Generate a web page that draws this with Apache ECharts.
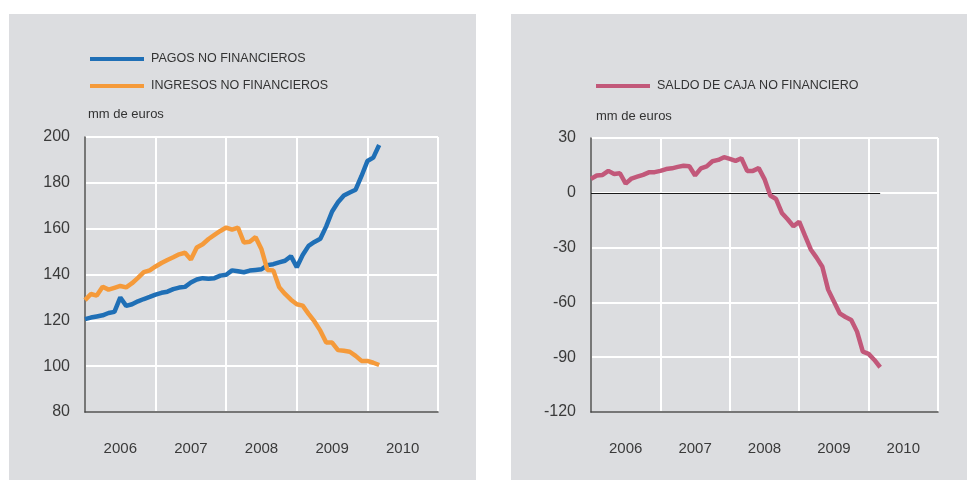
<!DOCTYPE html>
<html lang="es">

<head>
	<meta charset="UTF-8" />
	<title>Pagos, ingresos y saldo de caja no financiero</title>
	<script src="https://cdn.jsdelivr.net/npm/echarts@6/dist/echarts.min.js"></script>
	<style type="text/css">
		body {
			margin: 0;
			background-color: #ffffff;
		}

		.panel {
			position: absolute;
			background-color: #dcdde0;
		}

		#chart {
			position: absolute;
			left: 0;
			top: 0;
			width: 967px;
			height: 480px;
		}
	</style>
</head>

<body>
	<!-- fondos grises de los dos paneles -->
	<div class="panel" style="left: 9px; top: 14px; width: 467px; height: 466px;"></div>
	<div class="panel" style="left: 511px; top: 14px; width: 456px; height: 466px;"></div>

	<div id="chart"></div>

	<script>
		//--------------------------- datos ---------------------------//

		// mensual, ene 2006 - mar 2010 (índice 0 = ene 2006)
		const years = ['2006', '2007', '2008', '2009', '2010'];

		const pagos = [
			120.5, 121.2, 121.7, 122.2, 123.2, 123.7, 130.0, 126.3, 127.0, 128.3, 129.3, 130.2,
			131.2, 132.0, 132.5, 133.6, 134.3, 134.6, 136.5, 137.8, 138.4, 138.1, 138.4, 139.5,
			139.9, 141.8, 141.4, 141.0, 141.7, 142.0, 142.3, 144.1, 144.5, 145.3, 146.0, 148.0,
			143.2, 148.5, 152.5, 154.2, 155.6, 161.0, 167.5, 171.5, 174.5, 175.8, 177.0, 183.0,
			189.5, 191.0, 196.5
		];

		const ingresos = [
			128.8, 131.5, 130.8, 134.7, 133.4, 134.2, 135.0, 134.4, 136.2, 138.5, 141.0, 141.8,
			143.5, 145.0, 146.3, 147.5, 148.8, 149.5, 146.5, 151.8, 153.2, 155.5, 157.3, 159.0,
			160.5, 159.6, 160.5, 154.0, 154.3, 156.3, 151.0, 142.0, 141.8, 134.5, 131.5, 129.0,
			127.0, 126.4, 122.8, 119.5, 115.5, 110.3, 110.3, 107.0, 106.7, 106.3, 104.5, 102.3,
			102.3, 101.5, 100.5
		];

		const saldo = [
			7.6, 9.5, 9.8, 12.0, 10.3, 10.7, 5.0, 7.8, 8.8, 9.8, 11.2, 11.3,
			12.0, 13.0, 13.4, 14.2, 14.8, 14.5, 9.5, 13.4, 14.5, 17.3, 18.0, 19.5,
			18.6, 17.5, 18.9, 12.0, 12.0, 13.5, 7.5, -1.5, -3.4, -11.0, -14.5, -18.3,
			-15.8, -23.5, -31.0, -35.5, -40.5, -53.0, -59.5, -66.0, -68.0, -69.6, -76.0, -87.0,
			-88.2, -91.5, -95.5
		];

		//--------------------------- estilos comunes ---------------------------//

		const fontFamily = '"Liberation Sans", Arial, sans-serif';
		const gridLine = { show: true, lineStyle: { color: '#ffffff', width: 2 } };
		const darkAxis = { show: true, onZero: false, lineStyle: { color: '#4a4a4a', width: 1.5 } };
		const tickText = { color: '#3a3a3a', fontSize: 16, fontFamily: fontFamily };

		function toPoints(arr) {
			return arr.map((v, i) => [i, v]);
		}

		function monthAxis(gridIndex) {
			return {
				type: 'value', gridIndex: gridIndex, position: 'bottom',
				min: 0, max: 60, interval: 12,
				axisLine: darkAxis, axisTick: { show: false }, axisLabel: { show: false },
				splitLine: gridLine
			};
		}

		function yearAxis(gridIndex) {
			return {
				type: 'category', gridIndex: gridIndex, position: 'bottom', data: years,
				axisLine: { show: false }, axisTick: { show: false }, splitLine: { show: false },
				axisLabel: { color: '#3a3a3a', fontSize: 15, fontFamily: fontFamily, margin: 29 }
			};
		}

		//--------------------------- gráfico ---------------------------//

		const chart = echarts.init(document.getElementById('chart'));

		chart.setOption({
			animation: false,
			title: [
				{ text: 'mm de euros', left: 83, top: 103, textStyle: { color: '#333', fontSize: 13, fontWeight: 'normal', fontFamily: fontFamily } },
				{ text: 'mm de euros', left: 591, top: 105, textStyle: { color: '#333', fontSize: 13, fontWeight: 'normal', fontFamily: fontFamily } }
			],
			legend: [
				{
					data: ['PAGOS NO FINANCIEROS', 'INGRESOS NO FINANCIEROS'],
					orient: 'vertical', left: 85, top: 47, itemGap: 13,
					icon: 'rect', itemWidth: 54, itemHeight: 4,
					textStyle: { color: '#333', fontSize: 12.5, fontFamily: fontFamily, lineHeight: 14, padding: [0, 0, 0, 2] }
				},
				{
					data: ['SALDO DE CAJA NO FINANCIERO'],
					left: 591, top: 74,
					icon: 'rect', itemWidth: 54, itemHeight: 4,
					textStyle: { color: '#333', fontSize: 12.5, fontFamily: fontFamily, lineHeight: 14, padding: [0, 0, 0, 2] }
				}
			],
			grid: [
				{ left: 85, top: 137, width: 353, height: 275 },
				{ left: 591, top: 138, width: 347, height: 274 }
			],
			xAxis: [monthAxis(0), yearAxis(0), monthAxis(1), yearAxis(1)],
			yAxis: [
				{
					type: 'value', gridIndex: 0, min: 80, max: 200, interval: 20,
					axisLine: darkAxis, axisTick: { show: false }, splitLine: gridLine,
					axisLabel: Object.assign({ margin: 15 }, tickText)
				},
				{
					type: 'value', gridIndex: 1, min: -120, max: 30, interval: 30,
					axisLine: darkAxis, axisTick: { show: false }, splitLine: gridLine,
					axisLabel: Object.assign({ margin: 15 }, tickText)
				}
			],
			series: [
				{
					name: 'PAGOS NO FINANCIEROS', type: 'line', xAxisIndex: 0, yAxisIndex: 0,
					data: toPoints(pagos), showSymbol: false, color: '#1f6fb6',
					lineStyle: { width: 4.5 }
				},
				{
					name: 'INGRESOS NO FINANCIEROS', type: 'line', xAxisIndex: 0, yAxisIndex: 0,
					data: toPoints(ingresos), showSymbol: false, color: '#f59a3a',
					lineStyle: { width: 4.5 }
				},
				{
					name: 'SALDO DE CAJA NO FINANCIERO', type: 'line', xAxisIndex: 2, yAxisIndex: 1,
					data: toPoints(saldo), showSymbol: false, color: '#c2587a',
					lineStyle: { width: 4.5 },
					z: 3,
					markLine: {
						silent: true, symbol: 'none', label: { show: false },
						lineStyle: { color: '#1a1a1a', width: 1, type: 'solid' },
						z: 2,
						data: [[{ coord: [0, 0] }, { coord: [saldo.length - 1, 0] }]]
					}
				}
			]
		});
	</script>
</body>

</html>
